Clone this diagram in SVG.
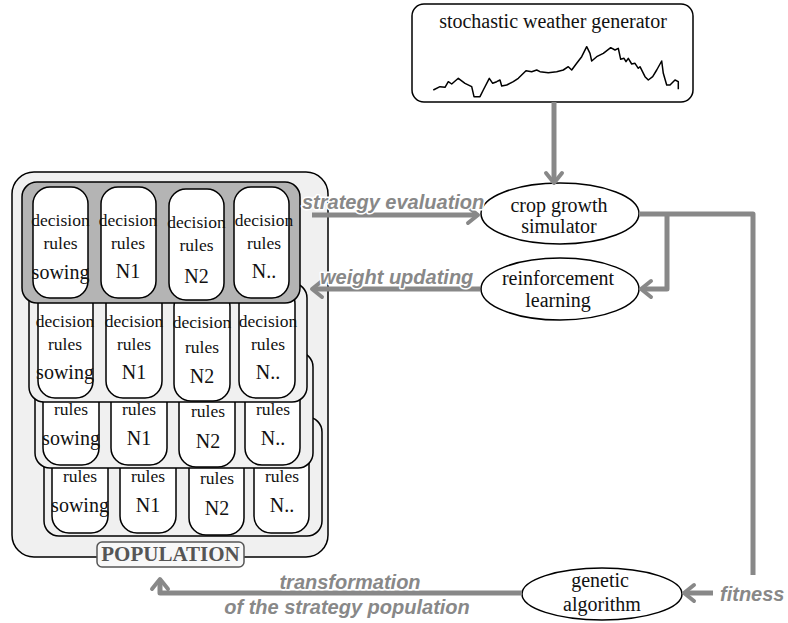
<svg xmlns="http://www.w3.org/2000/svg" width="788" height="623" viewBox="0 0 788 623">
<style>
.pop{fill:#f0f0f0;stroke:#000;stroke-width:1.5}
.lay{fill:#f0f0f0;stroke:#000;stroke-width:1.5}
.lay1{fill:#b4b4b4;stroke:#000;stroke-width:1.5}
.pill{fill:#fff;stroke:#000;stroke-width:1.5}
.sm{font-family:"Liberation Serif",serif;font-size:17.5px;fill:#111;text-anchor:middle}
.lg{font-family:"Liberation Serif",serif;font-size:20px;fill:#111;text-anchor:middle}
.node{fill:#fff;stroke:#000;stroke-width:1.5}
.lbl{font-family:"Liberation Sans",Arial,sans-serif;font-size:20px;font-weight:bold;font-style:italic;fill:#888;stroke:#fff;stroke-width:3;paint-order:stroke;stroke-linejoin:round}
.con{fill:none;stroke:#888;stroke-width:5;stroke-linejoin:round}
</style>
<defs>
<marker id="arr" viewBox="-14 -11 18 22" refX="-2" refY="0" markerWidth="18" markerHeight="22" markerUnits="userSpaceOnUse" orient="auto">
<path d="M-10,-8 L0,0 L-10,8" fill="none" stroke="#888" stroke-width="4" stroke-linejoin="round" stroke-linecap="round"/>
</marker>
</defs>

<g id="population">
<rect class="pop" x="12" y="172" width="316" height="385" rx="22"/>
<g id="layer4">
<rect class="lay" x="44" y="417" width="278" height="119" rx="15"/>
<rect class="pill" x="52" y="422" width="56" height="111" rx="17"/>
<rect class="pill" x="120" y="422" width="56" height="111" rx="17"/>
<rect class="pill" x="189" y="424" width="55" height="111" rx="17"/>
<rect class="pill" x="254" y="422" width="55" height="111" rx="17"/>
<text class="sm" x="80" y="482">rules</text>
<text class="sm" x="148" y="482">rules</text>
<text class="sm" x="217" y="484">rules</text>
<text class="sm" x="282" y="482">rules</text>
<text class="lg" x="80" y="512">sowing</text>
<text class="lg" x="148" y="512">N1</text>
<text class="lg" x="217" y="515">N2</text>
<text class="lg" x="282" y="512">N..</text>
</g>
<g id="layer3">
<rect class="lay" x="35" y="352" width="278" height="116" rx="15"/>
<rect class="pill" x="43" y="354" width="56" height="111" rx="17"/>
<rect class="pill" x="111" y="354" width="56" height="111" rx="17"/>
<rect class="pill" x="179" y="356" width="56" height="111" rx="17"/>
<rect class="pill" x="245" y="354" width="55" height="111" rx="17"/>
<text class="sm" x="71" y="415">rules</text>
<text class="sm" x="139" y="415">rules</text>
<text class="sm" x="208" y="417">rules</text>
<text class="sm" x="273" y="415">rules</text>
<text class="lg" x="71" y="445">sowing</text>
<text class="lg" x="139" y="445">N1</text>
<text class="lg" x="208" y="448">N2</text>
<text class="lg" x="273" y="445">N..</text>
</g>
<g id="layer2">
<rect class="lay" x="29" y="283" width="278" height="119" rx="15"/>
<rect class="pill" x="38" y="287" width="55" height="111" rx="17"/>
<rect class="pill" x="106" y="287" width="56" height="111" rx="17"/>
<rect class="pill" x="174" y="290" width="56" height="111" rx="17"/>
<rect class="pill" x="239" y="287" width="56" height="111" rx="17"/>
<text class="sm" x="65" y="327">decision</text>
<text class="sm" x="134" y="327">decision</text>
<text class="sm" x="202" y="328">decision</text>
<text class="sm" x="268" y="327">decision</text>
<text class="sm" x="65" y="350">rules</text>
<text class="sm" x="134" y="350">rules</text>
<text class="sm" x="202" y="353">rules</text>
<text class="sm" x="268" y="350">rules</text>
<text class="lg" x="65" y="379">sowing</text>
<text class="lg" x="134" y="379">N1</text>
<text class="lg" x="202" y="383">N2</text>
<text class="lg" x="268" y="379">N..</text>
</g>
<g id="layer1">
<rect class="lay1" x="22" y="182" width="278" height="121" rx="15"/>
<rect class="pill" x="33" y="187" width="55" height="111" rx="17"/>
<rect class="pill" x="101" y="187" width="55" height="111" rx="17"/>
<rect class="pill" x="169" y="189" width="55" height="111" rx="17"/>
<rect class="pill" x="234" y="187" width="55" height="111" rx="17"/>
<text class="sm" x="60.5" y="226">decision</text>
<text class="sm" x="128" y="226">decision</text>
<text class="sm" x="196.5" y="228">decision</text>
<text class="sm" x="264" y="226">decision</text>
<text class="sm" x="60.5" y="249">rules</text>
<text class="sm" x="128" y="249">rules</text>
<text class="sm" x="196.5" y="251">rules</text>
<text class="sm" x="264" y="249">rules</text>
<text class="lg" x="60.5" y="279">sowing</text>
<text class="lg" x="128" y="278">N1</text>
<text class="lg" x="196.5" y="283">N2</text>
<text class="lg" x="264" y="278">N..</text>
</g>
<g id="population-label">
<rect x="97" y="542" width="147" height="25" rx="5" fill="#f8f8f8" stroke="#555" stroke-width="1.5"/>
<text x="170.5" y="561" font-family="Liberation Serif,serif" font-size="21" font-weight="bold" fill="#555" text-anchor="middle">POPULATION</text>
</g>
</g>

<g id="weather">
<rect class="node" x="412" y="4" width="281" height="98" rx="12"/>
<text class="lg" x="553" y="28">stochastic weather generator</text>
<polyline fill="none" stroke="#000" stroke-width="1.5" stroke-linejoin="round" points="433.3,90 440,86.7 445,87.3 448.3,81.7 451.7,84 458.3,78.3 465,83.3 471.7,86.7 474,96.7 480,96.7 483.3,90 489.3,78.3 492.7,83.3 496.7,81.7 500,80 501.7,86 506.7,85 513.3,81.7 518.3,78.3 526,70.7 531.7,71.7 536.7,70 540,71.7 548.3,72.7 556.7,71.7 563.3,70 568.3,66.7 571.7,70 576.7,63.3 581.7,56.7 586.7,46.7 590,53.3 591.7,61 596.7,56.7 603.3,53.3 610.7,47.7 615,50 618.3,48.3 620.7,59.3 624,58.3 626,61.7 628.3,58.3 631.7,64 635,63.3 638.3,68.3 640,66.7 645,76.7 648.3,80 652.7,76.7 656.7,70 661.7,61 663.3,73.3 666.7,85 670,85 675,80 678.3,81.7 678.3,89.3"/>
</g>

<g id="crop">
<ellipse class="node" cx="560" cy="213.5" rx="79" ry="30.5"/>
<text class="lg" x="559" y="212">crop growth</text>
<text class="lg" x="559" y="233">simulator</text>
</g>

<g id="rl">
<ellipse class="node" cx="560" cy="289" rx="79" ry="31"/>
<text class="lg" x="558" y="285">reinforcement</text>
<text class="lg" x="558" y="307">learning</text>
</g>

<g id="ga">
<ellipse class="node" cx="602" cy="594" rx="80" ry="26"/>
<text class="lg" x="600" y="587">genetic</text>
<text class="lg" x="602" y="611">algorithm</text>
</g>

<g id="connectors">
<path class="con" d="M554,102 V181" marker-end="url(#arr)"/>
<path class="con" d="M312,215 H476" marker-end="url(#arr)"/>
<path class="con" d="M480,289 H314" marker-end="url(#arr)"/>
<path class="con" d="M639,214 H753 V575"/>
<path class="con" d="M667,214 V289 H643" marker-end="url(#arr)"/>
<path class="con" d="M713,593 H686" marker-end="url(#arr)"/>
<path class="con" d="M522,593 H160 V581" marker-end="url(#arr)"/>
<text class="lbl" x="302" y="209">strategy evaluation</text>
<text class="lbl" x="320" y="284">weight updating</text>
<text class="lbl" x="720" y="601">fitness</text>
<text class="lbl" x="350" y="589" text-anchor="middle">transformation</text>
<text class="lbl" x="347" y="614" text-anchor="middle">of the strategy population</text>
</g>
</svg>
